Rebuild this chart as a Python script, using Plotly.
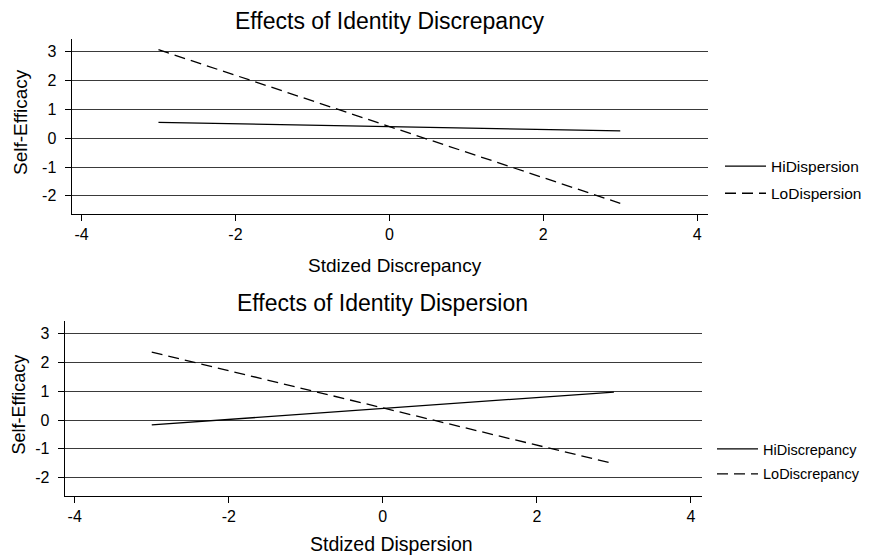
import plotly.graph_objects as go

# ---- data ----
x_vals = [-3, 0, 3]
hi_dispersion = [0.55, 0.41, 0.25]
lo_dispersion = [3.07, 0.41, -2.26]
hi_discrepancy = [-0.17, 0.40, 0.97]
lo_discrepancy = [2.36, 0.42, -1.52]

x_ticks = [-4, -2, 0, 2, 4]
x_tick_labels = ["-4", "-2", "0", "2", "4"]
y_ticks = [-2, -1, 0, 1, 2, 3]
y_tick_labels = ["-2", "-1", "0", "1", "2", "3"]

W, H = 874, 556
OFF = 8  # page body margin offset
FONT = "Liberation Sans, Arial, sans-serif"


def px_x(p):
    return (p - OFF) / W


def px_y(p):
    return 1 - (p - OFF) / H


fig = go.Figure()
fig.add_trace(go.Scatter(x=x_vals, y=hi_dispersion, mode="lines", name="HiDispersion",
                         line=dict(color="black", width=1.3), xaxis="x", yaxis="y",
                         legend="legend", legendgroup="a"))
fig.add_trace(go.Scatter(x=x_vals, y=lo_dispersion, mode="lines", name="LoDispersion",
                         line=dict(color="black", width=1.3, dash="11px,6px"), xaxis="x", yaxis="y",
                         legend="legend", legendgroup="b"))
fig.add_trace(go.Scatter(x=x_vals, y=hi_discrepancy, mode="lines", name="HiDiscrepancy",
                         line=dict(color="black", width=1.3), xaxis="x2", yaxis="y2",
                         legend="legend2", legendgroup="c"))
fig.add_trace(go.Scatter(x=x_vals, y=lo_discrepancy, mode="lines", name="LoDiscrepancy",
                         line=dict(color="black", width=1.3, dash="11px,6px"), xaxis="x2", yaxis="y2",
                         legend="legend2", legendgroup="d"))


def xax(domain, anchor):
    return dict(domain=domain, anchor=anchor, range=[-4.13, 4.14],
                tickvals=x_ticks, ticktext=x_tick_labels,
                showgrid=False, zeroline=False, showline=True, linecolor="black", linewidth=1,
                ticks="outside", ticklen=6, tickcolor="black",
                tickfont=dict(size=16, color="black", family=FONT))


def yax(domain, anchor):
    return dict(domain=domain, anchor=anchor, range=[-2.63, 3.44],
                tickvals=y_ticks, ticktext=y_tick_labels,
                showgrid=True, gridcolor="#3a3a3a", gridwidth=1, zeroline=False,
                showline=True, linecolor="black", linewidth=1,
                ticks="outside", ticklen=6, tickcolor="black", ticklabelstandoff=5,
                tickfont=dict(size=16, color="black", family=FONT))


fig.update_layout(
    width=W, height=H,
    margin=dict(l=0, r=0, t=0, b=0),
    paper_bgcolor="white", plot_bgcolor="white",
    font=dict(family=FONT, color="black"),
    xaxis=xax([px_x(71.5), px_x(708)], "y"),
    yaxis=yax([px_y(214), px_y(39)], "x"),
    xaxis2=xax([px_x(64.7), px_x(701.7)], "y2"),
    yaxis2=yax([px_y(495.7), px_y(321)], "x2"),
    showlegend=True,
    legend=dict(x=px_x(720), y=px_y(149.5), xanchor="left", yanchor="top",
                bgcolor="rgba(0,0,0,0)", font=dict(size=15.5, family=FONT),
                tracegroupgap=4, itemwidth=41),
    legend2=dict(x=px_x(712), y=px_y(433), xanchor="left", yanchor="top",
                 bgcolor="rgba(0,0,0,0)", font=dict(size=14.5, family=FONT),
                 tracegroupgap=3, itemwidth=41),
    annotations=[
        dict(text="Effects of Identity Discrepancy", x=px_x(389), y=px_y(21), xref="paper", yref="paper",
             showarrow=False, xanchor="center", yanchor="middle", font=dict(size=23)),
        dict(text="Effects of Identity Dispersion", x=px_x(382), y=px_y(303), xref="paper", yref="paper",
             showarrow=False, xanchor="center", yanchor="middle", font=dict(size=23)),
        dict(text="Stdized Discrepancy", x=px_x(395), y=px_y(265), xref="paper", yref="paper",
             showarrow=False, xanchor="center", yanchor="middle", font=dict(size=19)),
        dict(text="Stdized Dispersion", x=px_x(391.5), y=px_y(544), xref="paper", yref="paper",
             showarrow=False, xanchor="center", yanchor="middle", font=dict(size=19.5)),
        dict(text="Self-Efficacy", x=px_x(20), y=px_y(122), xref="paper", yref="paper", textangle=-90,
             showarrow=False, xanchor="center", yanchor="middle", font=dict(size=19)),
        dict(text="Self-Efficacy", x=px_x(18.5), y=px_y(405), xref="paper", yref="paper", textangle=-90,
             showarrow=False, xanchor="center", yanchor="middle", font=dict(size=18)),
    ],
)

fig.write_html("out.html")
